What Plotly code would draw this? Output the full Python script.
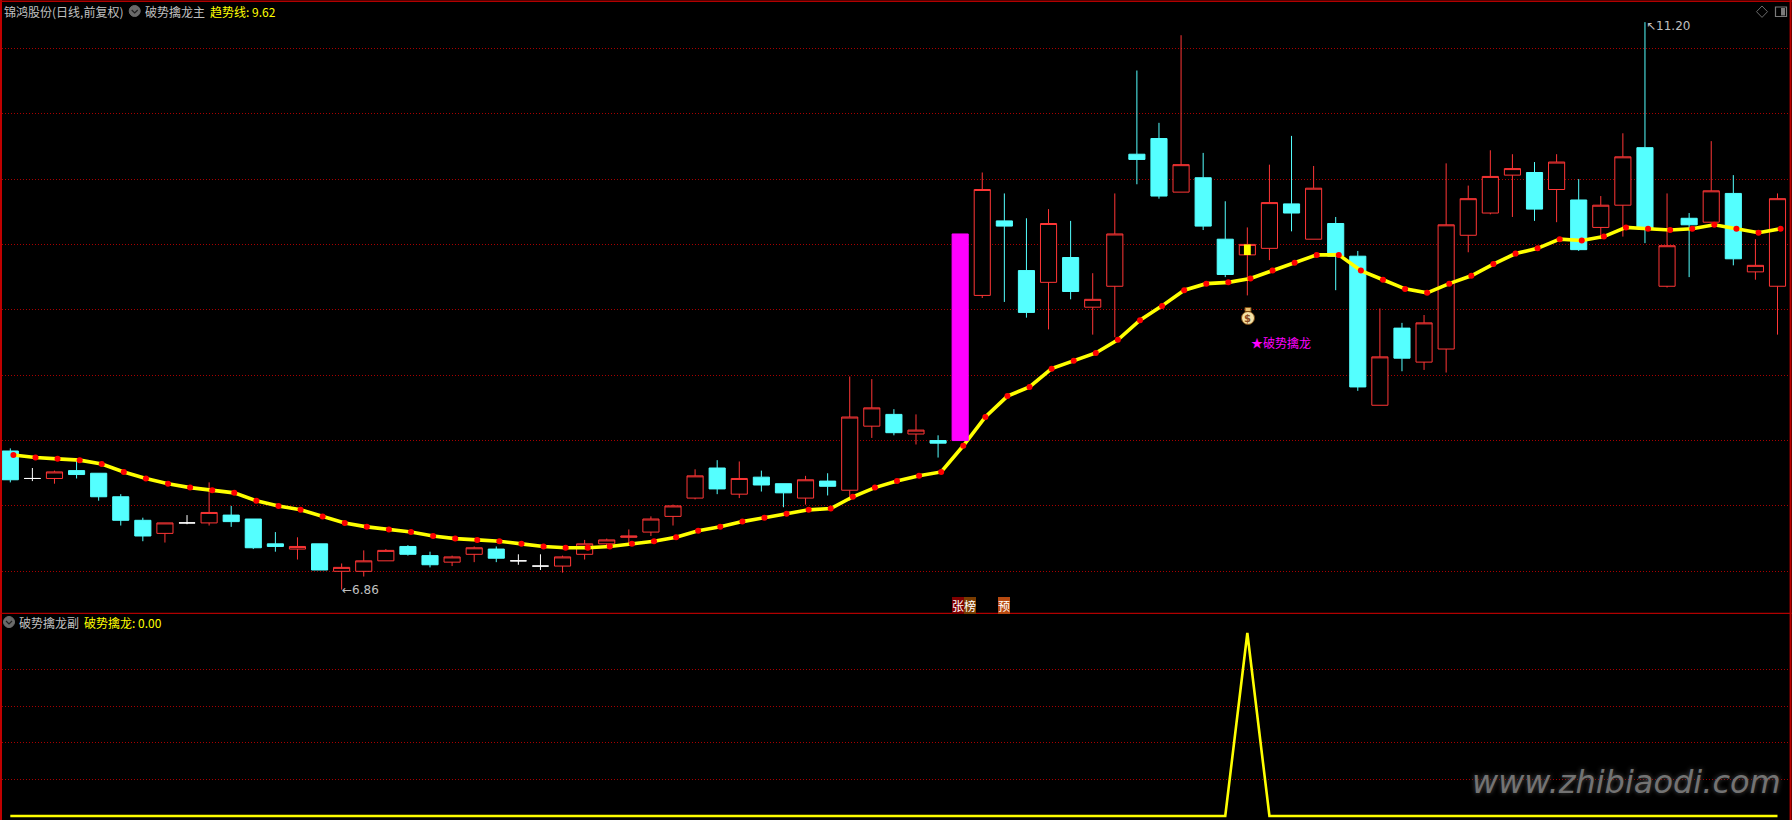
import plotly.graph_objects as go

W, H = 1792, 820

open_ = [7.92,7.71,7.71,7.77,7.75,7.57,7.39,7.29,7.37,7.37,
         7.43,7.40,7.21,7.17,7.21,7.00,7.00,7.08,7.19,7.12,
         7.07,7.13,7.17,7.08,7.04,7.04,7.13,7.21,7.26,7.30,
         7.42,7.56,7.79,7.59,7.72,7.67,7.56,7.69,7.62,8.11,
         8.20,8.05,8.00,8.00,9.11,9.68,9.30,9.21,9.40,9.02,
         9.18,10.19,10.31,9.90,10.01,9.54,9.42,9.47,9.81,9.54,
         9.66,9.41,8.27,8.86,8.60,8.70,9.57,9.74,10.03,10.05,
         9.92,9.84,9.63,9.80,10.24,9.18,9.70,9.67,9.89,9.29,9.18]
close = [7.70,7.71,7.76,7.74,7.57,7.39,7.27,7.37,7.37,7.45,
         7.38,7.18,7.19,7.19,7.01,7.03,7.08,7.16,7.13,7.05,
         7.11,7.18,7.10,7.08,7.04,7.11,7.21,7.24,7.27,7.40,
         7.50,7.73,7.63,7.71,7.66,7.60,7.70,7.65,8.18,8.25,
         8.06,8.08,7.98,9.58,9.92,9.64,8.98,9.66,9.14,9.08,
         9.58,10.15,9.87,10.11,9.64,9.27,9.50,9.82,9.74,9.93,
         9.41,8.41,8.64,8.63,8.90,9.65,9.85,10.02,10.08,9.77,
         10.13,9.46,9.80,10.17,9.62,9.49,9.65,9.91,9.39,9.34,9.85]
high = [7.94,7.79,7.77,7.85,7.75,7.59,7.41,7.37,7.43,7.68,
        7.50,7.40,7.30,7.26,7.21,7.06,7.16,7.17,7.20,7.15,
        7.12,7.19,7.19,7.13,7.13,7.12,7.24,7.25,7.32,7.42,
        7.51,7.78,7.85,7.84,7.77,7.67,7.73,7.75,8.49,8.47,
        8.24,8.20,8.04,9.58,10.05,9.89,9.70,9.77,9.68,9.28,
        9.89,10.83,10.43,11.10,10.20,9.83,9.63,10.11,10.33,10.10,
        9.71,9.45,9.01,8.90,8.96,10.12,9.95,10.22,10.19,10.13,
        10.19,10.00,9.87,10.35,11.20,9.89,9.74,10.29,10.03,9.54,9.89]
low = [7.68,7.69,7.67,7.71,7.54,7.35,7.23,7.22,7.36,7.35,
       7.34,7.17,7.15,7.09,7.01,6.86,6.96,7.08,7.12,7.03,
       7.04,7.07,7.07,7.05,7.01,6.99,7.09,7.18,7.21,7.27,
       7.35,7.55,7.59,7.56,7.61,7.49,7.51,7.58,7.54,8.02,
       8.04,7.97,7.87,8.00,9.09,9.06,8.94,8.85,9.08,8.81,
       8.79,9.96,9.85,9.90,9.61,9.25,9.11,9.38,9.60,9.54,
       9.15,8.38,8.27,8.53,8.54,8.52,9.44,9.73,9.71,9.68,
       9.67,9.45,9.54,9.56,9.51,9.17,9.25,9.67,9.34,9.23,8.81]
trend = [7.89,7.87,7.86,7.85,7.82,7.76,7.71,7.67,7.64,7.62,
         7.60,7.54,7.50,7.47,7.42,7.37,7.34,7.32,7.30,7.27,
         7.25,7.24,7.23,7.21,7.19,7.18,7.18,7.19,7.21,7.23,
         7.26,7.31,7.34,7.38,7.41,7.44,7.47,7.48,7.57,7.64,
         7.69,7.73,7.76,7.96,8.18,8.34,8.41,8.55,8.61,8.67,
         8.77,8.92,9.03,9.15,9.20,9.21,9.24,9.30,9.36,9.42,
         9.42,9.30,9.23,9.16,9.13,9.20,9.26,9.35,9.43,9.47,
         9.54,9.53,9.56,9.63,9.62,9.61,9.62,9.65,9.62,9.59,9.62]
signal = [0.0] * 56 + [1.0] + [0.0] * 24
white_doji = [1, 8, 23, 24]
limit_up = [43]
marked = [56]
price_grid = [7.0, 7.5, 8.0, 8.5, 9.0, 9.5, 10.0, 10.5, 11.0]
signal_grid = [0.2, 0.4, 0.6, 0.8]

RED, CYAN, GRID, EDGE = "#ff3636", "#54ffff", "#a80000", "#b00000"
CJK = "Noto Sans CJK SC"
idx = list(range(len(open_)))


def pick(values, keep):
    return [values[i] for i in keep]


special = set(white_doji + limit_up)
normal = [i for i in idx if i not in special]


def candle(keep, up_line, up_fill, down_line, down_fill, xa="x", ya="y"):
    return go.Candlestick(
        x=keep, open=pick(open_, keep), high=pick(high, keep), low=pick(low, keep), close=pick(close, keep),
        increasing=dict(line=dict(color=up_line, width=1), fillcolor=up_fill),
        decreasing=dict(line=dict(color=down_line, width=1), fillcolor=down_fill),
        whiskerwidth=0, xaxis=xa, yaxis=ya, showlegend=False, hoverinfo="skip",
    )


fig = go.Figure()
fig.add_trace(candle(normal, RED, "#000000", CYAN, CYAN))
fig.add_trace(candle(white_doji, "#ffffff", "#ffffff", "#ffffff", "#ffffff"))
fig.add_trace(go.Scatter(
    x=[i + 0.14 for i in idx], y=trend, mode="lines+markers",
    line=dict(color="#ffff00", width=3.6), marker=dict(color="#ff0000", size=6),
    showlegend=False, hoverinfo="skip",
))
fig.add_trace(go.Bar(
    x=marked, base=pick(open_, marked),
    y=[close[i] - open_[i] for i in marked], width=0.31,
    marker=dict(color="#ffff00", line=dict(width=0)),
    xaxis="x3", yaxis="y3", showlegend=False, hoverinfo="skip",
))
fig.add_trace(candle(limit_up, "#ff00ff", "#ff00ff", "#ff00ff", "#ff00ff", xa="x3", ya="y3"))
fig.add_trace(go.Scatter(
    x=idx, y=signal, mode="lines", line=dict(color="#ffff00", width=2.6),
    xaxis="x2", yaxis="y2", showlegend=False, hoverinfo="skip",
))


def px(x):
    return x / W


def py(y):
    return 1 - y / H


def label(x, y, text, color="#c0c0c0", size=12, family=CJK, **kw):
    return dict(xref="paper", yref="paper", x=px(x), y=py(y), text=text, showarrow=False,
                xanchor="left", yanchor="middle", borderpad=0, borderwidth=0,
                font=dict(color=color, size=size, family=family), **kw)


annotations = [
    label(4, 11, "锦鸿股份(日线,前复权)"),
    label(145, 11, "破势擒龙主"),
    label(210, 11, "趋势线: 9.62", color="#ffff00"),
    label(19, 622, "破势擒龙副"),
    label(84, 622, "破势擒龙: 0.00", color="#ffff00"),
    label(1251, 343, "★破势擒龙", color="#ff00ff"),
    label(952, 605.5, "张", color="#ffffff", bgcolor="#800000"),
    label(964, 605.5, "榜", color="#ffffff", bgcolor="#7a3c00"),
    label(998, 605.5, "预", color="#ffffff", bgcolor="#b84a10"),
    dict(xref="x", yref="y", x=15, y=6.86, text="←6.86", showarrow=False, xanchor="left", yanchor="middle",
         xshift=-2, font=dict(color="#c0c0c0", size=12, family="DejaVu Sans")),
    dict(xref="x", yref="y", x=74, y=11.20, text="↖11.20", showarrow=False, xanchor="left", yanchor="middle",
         xshift=-1, yshift=-4, font=dict(color="#c0c0c0", size=12, family="DejaVu Sans")),
    dict(xref="x", yref="y", x=56, y=8.93, text="<b>$</b>", showarrow=False, xanchor="center", yanchor="middle",
         font=dict(color="#8a4b20", size=10, family="DejaVu Sans")),
    label(1472, 782, "www.zhibiaodi.com", color="#737373", size=32, family="DejaVu Sans"),
]
annotations[-1]["font"].update(style="italic", shadow="0 0 5px #4a4a4a")


def line_shape(x0, y0, x1, y1, color, width=1):
    return dict(type="line", xref="paper", yref="paper", x0=px(x0), y0=py(y0), x1=px(x1), y1=py(y1),
                line=dict(color=color, width=width), layer="above")


def circle(cx, cy, r, fill, edge=None):
    return dict(type="circle", xref="paper", yref="paper", x0=px(cx - r), x1=px(cx + r), y0=py(cy - r), y1=py(cy + r),
                fillcolor=fill, line=dict(color=edge or fill, width=1), layer="above")


def chevron(cx, cy):
    pts = [(cx - 3, cy - 1), (cx, cy + 2), (cx + 3, cy - 1)]
    path = "M " + " L ".join(f"{px(a):.5f},{py(b):.5f}" for a, b in pts)
    return dict(type="path", xref="paper", yref="paper", path=path, line=dict(color="#202020", width=1.2), layer="above")


diamond_pts = [(1762, 6), (1767.5, 11.7), (1762, 17.4), (1756.5, 11.7)]
shapes = [
    line_shape(1, 0, 1, H, "#c00000", 2),
    line_shape(1790.6, 0, 1790.6, H, "#c00000", 2),
    line_shape(0, 1.3, W, 1.3, EDGE, 1.5),
    line_shape(0, 613.3, W, 613.3, EDGE, 1.2),
    circle(134.7, 11, 5.5, "#6a6a6a"),
    chevron(134.7, 11),
    circle(9, 622, 5.5, "#6a6a6a"),
    chevron(9, 622),
    dict(type="path", xref="paper", yref="paper", line=dict(color="#6a6a6a", width=1), layer="above",
         path="M " + " L ".join(f"{px(a):.5f},{py(b):.5f}" for a, b in diamond_pts) + " Z"),
    dict(type="rect", xref="paper", yref="paper", x0=px(1775.5), x1=px(1786.5), y0=py(7), y1=py(16.5),
         line=dict(color="#7a7a7a", width=1.2)),
    dict(type="rect", xref="paper", yref="paper", x0=px(1781), x1=px(1785), y0=py(8), y1=py(15.5),
         fillcolor="#7a7a7a", line=dict(width=0)),
    circle(1248, 318, 6.5, "#f5e2a6", "#7a4a10"),
    dict(type="rect", xref="paper", yref="paper", x0=px(1245), x1=px(1251), y0=py(307.5), y1=py(311.5),
         fillcolor="#e8c070", line=dict(color="#7a4a10", width=1), layer="above"),
]

x_left, x_right = 1.5, 1790.5
dom_x = [px(x_left), px(x_right)]
x_range = [(x_left - 10.3) / 22.09, (x_right - 10.3) / 22.09]
main_top, main_bottom, sub_bottom = 1.5, 613.3, 819.0
price_range = [7 + (571.3 - main_bottom) / 130.75, 7 + (571.3 - main_top) / 130.75]
sub_range = [(816 - sub_bottom) / 183, (816 - main_bottom) / 183]

grid = dict(showgrid=True, gridcolor=GRID, gridwidth=1, griddash="1px,2px", zeroline=False,
            showline=False, showticklabels=False, ticks="", tickmode="array")
xbase = dict(visible=False, range=x_range, domain=dom_x, rangeslider=dict(visible=False), fixedrange=True)

fig.update_layout(
    width=W, height=H, margin=dict(l=0, r=0, t=0, b=0, pad=0),
    paper_bgcolor="#000000", plot_bgcolor="#000000", showlegend=False,
    boxmode="overlay", boxgap=0.27, boxgroupgap=0,
    hovermode=False,
    xaxis=dict(xbase, anchor="y"),
    yaxis=dict(grid, domain=[py(main_bottom), py(main_top)], range=price_range, tickvals=price_grid, anchor="x"),
    xaxis2=dict(xbase, anchor="y2"),
    yaxis2=dict(grid, domain=[py(sub_bottom), py(main_bottom)], range=sub_range, tickvals=signal_grid, anchor="x2"),
    xaxis3=dict(xbase, anchor="y3", overlaying="x"),
    yaxis3=dict(visible=False, domain=[py(main_bottom), py(main_top)], range=price_range, anchor="x3", overlaying="y"),
    annotations=annotations, shapes=shapes,
)

fig.write_html("out.html", config=dict(displayModeBar=False, responsive=False),
               post_script="document.body.style.margin='0';document.body.style.overflow='hidden';")
